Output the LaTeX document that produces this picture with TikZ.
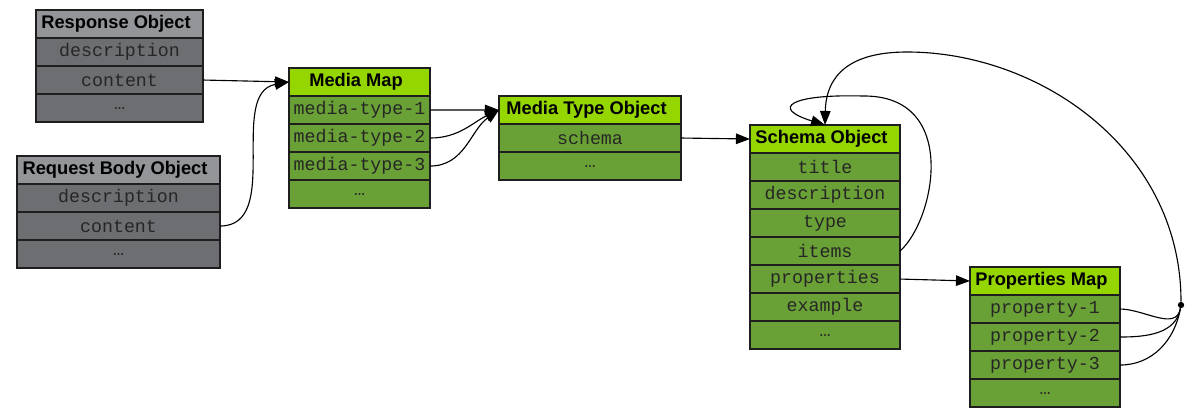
\documentclass[tikz,border=0pt]{standalone}
\usepackage{fontspec}
\usepackage{xcolor}
\usepackage{tikz}
\usetikzlibrary{positioning,arrows.meta}
\newfontfamily\hdrfont{Liberation Sans}
\newfontfamily\fldfont{Liberation Mono}
\definecolor{greyhdr}{HTML}{939598}
\definecolor{greyrow}{HTML}{6D6E71}
\definecolor{greenhdr}{HTML}{95D600}
\definecolor{greenrow}{HTML}{6AA136}
\definecolor{rule}{HTML}{1E1E1E}
\tikzset{
  cell/.style={draw=rule, line width=1.2pt, minimum height=0.7cm, inner sep=0pt, outer sep=0pt},
  hdr/.style={cell, font=\hdrfont\bfseries\fontsize{13}{15}\selectfont, execute at end node=\hspace*{5pt}},
  fld/.style={cell, font=\fldfont\fontsize{13}{15}\selectfont, text=black!85},
  greyhead/.style={hdr, fill=greyhdr},
  greyfld/.style={fld, fill=greyrow},
  greenhead/.style={hdr, fill=greenhdr},
  greenfld/.style={fld, fill=greenrow},
  link/.style={draw=black, line width=0.8pt, -{Triangle[length=10pt,width=7.5pt]}},
  plain/.style={draw=black, line width=0.8pt},
  joint/.style={circle, fill=black, inner sep=0pt, minimum size=4.5pt},
}

\begin{document}
\begin{tikzpicture}[x=0.025cm, y=-0.025cm]
  \useasboundingbox (0,0) rectangle (1189,417);

  % response object
  \begin{scope}[nodes={minimum width=4.175cm}]
    \node[greyhead, anchor=north west] (resHdr) at (36,10) {Response Object};
    \node[greyfld, below=0pt of resHdr] (resDesc) {description};
    \node[greyfld, below=0pt of resDesc] (resCont) {content};
    \node[greyfld, below=0pt of resCont] (resMore) {…};
  \end{scope}

  % request body object
  \begin{scope}[nodes={minimum width=5.075cm}]
    \node[greyhead, anchor=north west] (reqHdr) at (17,156) {Request Body Object};
    \node[greyfld, below=0pt of reqHdr] (reqDesc) {description};
    \node[greyfld, below=0pt of reqDesc] (reqCont) {content};
    \node[greyfld, below=0pt of reqCont] (reqMore) {…};
  \end{scope}

  % media map
  \begin{scope}[nodes={minimum width=3.525cm}]
    \node[greenhead, anchor=north west] (mmHdr) at (289,68) {Media Map};
    \node[greenfld, below=0pt of mmHdr] (mm1) {media-type-1};
    \node[greenfld, below=0pt of mm1] (mm2) {media-type-2};
    \node[greenfld, below=0pt of mm2] (mm3) {media-type-3};
    \node[greenfld, below=0pt of mm3] (mmMore) {…};
  \end{scope}

  % media type object
  \begin{scope}[nodes={minimum width=4.55cm}]
    \node[greenhead, anchor=north west] (mtHdr) at (499,96) {Media Type Object};
    \node[greenfld, below=0pt of mtHdr] (mtSchema) {schema};
    \node[greenfld, below=0pt of mtSchema] (mtMore) {…};
  \end{scope}

  % schema object
  \begin{scope}[nodes={minimum width=3.75cm}]
    \node[greenhead, anchor=north west] (soHdr) at (750,125) {Schema Object};
    \node[greenfld, below=0pt of soHdr] (soTitle) {title};
    \node[greenfld, below=0pt of soTitle] (soDesc) {description};
    \node[greenfld, below=0pt of soDesc] (soType) {type};
    \node[greenfld, below=0pt of soType] (soItems) {items};
    \node[greenfld, below=0pt of soItems] (soProps) {properties};
    \node[greenfld, below=0pt of soProps] (soExample) {example};
    \node[greenfld, below=0pt of soExample] (soMore) {…};
  \end{scope}

  % properties map
  \begin{scope}[nodes={minimum width=3.75cm}]
    \node[greenhead, anchor=north west] (pmHdr) at (970,267) {Properties Map};
    \node[greenfld, below=0pt of pmHdr] (pm1) {property-1};
    \node[greenfld, below=0pt of pm1] (pm2) {property-2};
    \node[greenfld, below=0pt of pm2] (pm3) {property-3};
    \node[greenfld, below=0pt of pm3] (pmMore) {…};
  \end{scope}

  \node[joint] (join) at (1181,305) {};
  \coordinate (loopTop) at (863,96);
  \coordinate (arcTop) at (907,52);

  \draw[link] (resCont.east) -- (mmHdr.west);
  \draw[link] (reqCont.east) to[out=0,in=190] (mmHdr.west);
  \draw[link] (mm1.east) -- (mtHdr.west);
  \draw[link] (mm2.east) to[out=0,in=205] (mtHdr.west);
  \draw[link] (mm3.east) to[out=0,in=215] (mtHdr.west);
  \draw[link] (mtSchema.east) -- (soHdr.west);
  \draw[link] (soProps.east) -- (pmHdr.west);
  \draw[link] (soItems.east) .. controls (935,220) and (960,95) .. (loopTop)
    .. controls (790,94) and (770,108) .. (soHdr.north);

  \draw[plain] (pm1.east) to[out=0,in=-100] (join);
  \draw[plain] (pm2.east) to[out=0,in=-100] (join);
  \draw[plain] (pm3.east) to[out=0,in=-100] (join);
  \draw[link] (join) .. controls (1181,150) and (1040,52) .. (arcTop)
    .. controls (850,52) and (826,75) .. (soHdr.north);
\end{tikzpicture}
\end{document}
